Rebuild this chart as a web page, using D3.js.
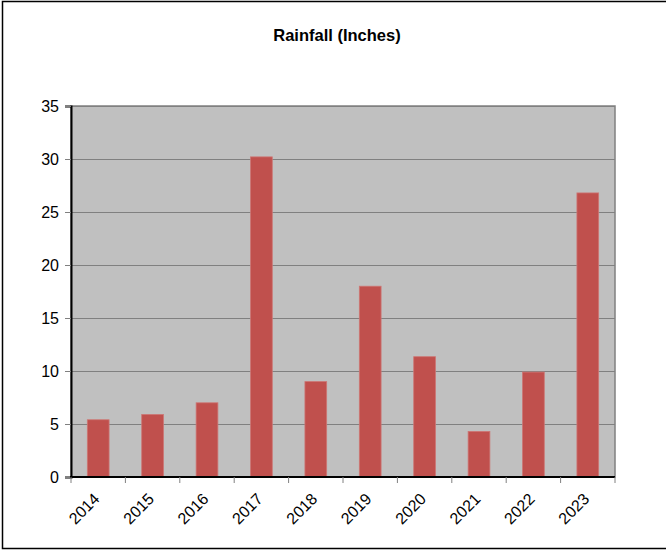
<!DOCTYPE html>
<html>
<head>
<meta charset="utf-8">
<script src="https://cdn.jsdelivr.net/npm/d3@7/dist/d3.min.js"></script>
<style>
  html, body { margin: 0; padding: 0; background: #fff; }
  svg { display: block; font-family: "Liberation Sans", Arial, sans-serif; }
</style>
</head>
<body>
<svg id="chart" width="666" height="550"></svg>
<script>
// Annual rainfall totals
const years = ["2014", "2015", "2016", "2017", "2018", "2019", "2020", "2021", "2022", "2023"];
const rainfall = [5.4, 5.9, 7.0, 30.2, 9.0, 18.0, 11.35, 4.3, 9.9, 26.8];
const yTicks = [0, 5, 10, 15, 20, 25, 30, 35];
const title = "Rainfall (Inches)";

const svg = d3.select("#chart");
const plot = { left: 71, right: 615, top: 106, bottom: 477 };
const fontFamily = "Liberation Sans, Arial, sans-serif";

// Outer frame
svg.append("rect")
  .attr("x", 2.5).attr("y", 1.5)
  .attr("width", 666).attr("height", 547)
  .attr("fill", "#fff")
  .attr("stroke", "#000")
  .attr("stroke-width", 1.5);

svg.append("text")
  .attr("x", 337).attr("y", 41)
  .attr("text-anchor", "middle")
  .attr("font-size", 16.5)
  .attr("font-weight", "bold")
  .text(title);

const x = d3.scaleBand()
  .domain(years)
  .range([plot.left, plot.right])
  .paddingInner(0.6)
  .paddingOuter(0.3);

const y = d3.scaleLinear()
  .domain([0, 35])
  .range([plot.bottom, plot.top]);

// Plot background
svg.append("rect")
  .attr("x", plot.left).attr("y", plot.top)
  .attr("width", plot.right - plot.left)
  .attr("height", plot.bottom - plot.top)
  .attr("fill", "#c0c0c0")
  .attr("stroke", "#808080")
  .attr("stroke-width", 1.5);

// Horizontal gridlines
svg.append("g")
  .selectAll("line")
  .data(yTicks.filter(t => t > 0))
  .join("line")
  .attr("x1", plot.left).attr("x2", plot.right)
  .attr("y1", d => Math.round(y(d)) + 0.5)
  .attr("y2", d => Math.round(y(d)) + 0.5)
  .attr("stroke", "#808080")
  .attr("stroke-width", 1.2);

// Bars
svg.append("g")
  .selectAll("rect")
  .data(years.map((yr, i) => ({ yr, v: rainfall[i] })))
  .join("rect")
  .attr("x", d => x(d.yr))
  .attr("y", d => y(d.v))
  .attr("width", x.bandwidth())
  .attr("height", d => y(0) - y(d.v))
  .attr("fill", "#c0504d")
  .attr("stroke", "#cd7674")
  .attr("stroke-width", 0.8);

// Y axis
const yAxis = svg.append("g")
  .attr("transform", `translate(${plot.left},0)`)
  .call(d3.axisLeft(y).tickValues(yTicks).tickSize(6).tickPadding(6));
yAxis.attr("font-size", 16).attr("font-family", fontFamily);
yAxis.select(".domain").attr("stroke", "#000").attr("stroke-width", 2);
yAxis.selectAll(".tick line").attr("stroke", "#808080");
yAxis.selectAll(".tick text").attr("fill", "#000");

// X axis with ticks at category boundaries
const bounds = d3.range(years.length + 1).map(i => plot.left + i * (plot.right - plot.left) / years.length);
const xAxis = svg.append("g").attr("font-size", 16).attr("font-family", fontFamily);
xAxis.append("line")
  .attr("x1", plot.left - 1).attr("x2", plot.right)
  .attr("y1", plot.bottom).attr("y2", plot.bottom)
  .attr("stroke", "#000").attr("stroke-width", 2);
xAxis.selectAll(".bt")
  .data(bounds)
  .join("line")
  .attr("class", "bt")
  .attr("x1", d => d).attr("x2", d => d)
  .attr("y1", plot.bottom).attr("y2", plot.bottom + 6)
  .attr("stroke", "#808080");

xAxis.selectAll("text")
  .data(years)
  .join("text")
  .attr("transform", d => `translate(${x(d) + x.bandwidth() / 2 - 1.5},${plot.bottom + 19}) rotate(-45)`)
  .attr("text-anchor", "end")
  .attr("dy", "0.35em")
  .text(d => d);
</script>
</body>
</html>
